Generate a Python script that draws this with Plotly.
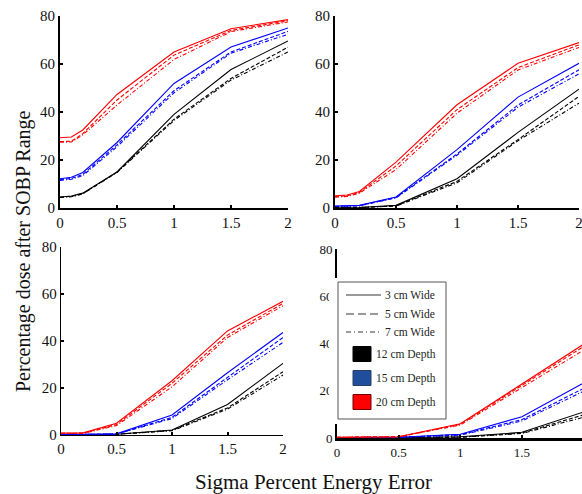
import plotly.graph_objects as go

W, H = 582, 494

sigma = [0, 0.1, 0.2, 0.5, 1, 1.5, 2]
widths = ["3 cm Wide", "5 cm Wide", "7 cm Wide"]
depths = ["12 cm Depth", "15 cm Depth", "20 cm Depth"]
x_ticks = [0, 0.5, 1, 1.5, 2]
y_ticks = [0, 20, 40, 60, 80]

# panel: top-left
tl_black = [[4.6, 5.0, 6.2, 15, 39, 57.7, 69.6], [4.5, 4.8, 6.0, 15, 37, 54, 67], [4.4, 4.7, 5.9, 14.8, 36.5, 53.3, 65]]
tl_blue = [[12.2, 12.8, 14.8, 27.3, 51.9, 67.1, 75], [11.8, 12.3, 14.0, 26.3, 48.9, 65, 73.6], [11.5, 12.0, 13.5, 25.5, 48, 64.5, 72.4]]
tl_red = [[29.3, 29.6, 32.5, 47.3, 65, 74.7, 78.5], [27.7, 27.8, 31, 45, 63.7, 74, 78], [27.4, 27.5, 30.5, 42.9, 61.9, 73.5, 77.5]]
# panel: top-right
tr_black = [[0.1, 0.1, 0.2, 1.1, 12.2, 31.5, 49.5], [0.1, 0.1, 0.2, 0.9, 11.1, 28.5, 46.5], [0.1, 0.1, 0.2, 0.8, 10.5, 28, 43.7]]
tr_blue = [[0.8, 0.9, 1.1, 4.6, 24.3, 46.2, 60.3], [0.7, 0.8, 1.0, 4.4, 22.5, 42.9, 57.6], [0.6, 0.7, 0.9, 4.2, 22, 42, 55.9]]
tr_red = [[5.1, 5.4, 6.9, 19.1, 43, 60.3, 68.9], [4.8, 5.1, 6.5, 17.5, 41, 58.5, 68], [4.5, 4.8, 6.2, 16, 39.5, 57.5, 66.9]]
# panel: bottom-left
bl_black = [[0, 0, 0, 0.3, 2.1, 13, 30.5], [0, 0, 0, 0.3, 2, 11.5, 26.9], [0, 0, 0, 0.3, 1.8, 11, 25.5]]
bl_blue = [[0.2, 0.2, 0.2, 0.5, 8.5, 26.5, 43.6], [0.2, 0.2, 0.2, 0.4, 7.5, 24.5, 41.5], [0.2, 0.2, 0.2, 0.4, 7, 23.5, 39.4]]
bl_red = [[0.8, 0.8, 0.9, 5, 23.1, 44.3, 56.9], [0.7, 0.7, 0.8, 4.5, 22, 42.5, 56], [0.6, 0.6, 0.7, 4, 20.5, 41.5, 55]]
# panel: bottom-right
br_black = [[0.1, 0.1, 0.1, 0.1, 0.5, 2.4, 11], [0.1, 0.1, 0.1, 0.1, 0.4, 2.1, 9.8], [0.1, 0.1, 0.1, 0.1, 0.3, 1.9, 8.8]]
br_blue = [[0.2, 0.2, 0.2, 0.3, 1.6, 9, 23.3], [0.2, 0.2, 0.2, 0.3, 1.4, 7.8, 21], [0.2, 0.2, 0.2, 0.3, 1.2, 7.2, 19.8]]
br_red = [[0.3, 0.3, 0.3, 0.5, 6, 22.8, 39.7], [0.3, 0.3, 0.3, 0.5, 5.8, 22.2, 38.7], [0.3, 0.3, 0.3, 0.5, 5.5, 21.5, 37.2]]

FONT = "Liberation Serif, Times New Roman, serif"
dashes = ["solid", "4px,2px", "4px,2px,1px,2px"]
colors = ["#000000", "#0000ff", "#ff0000"]

def px_x(p):
    return p / W

def px_y(p):
    return 1 - p / H

panels = [
    ("x", "y", (tl_black, tl_blue, tl_red), (60, 288), (16, 208), [0, 2], 15, 2, 2),
    ("x2", "y2", (tr_black, tr_blue, tr_red), (335, 579), (16, 208), [0, 2], 15, 2, 2),
    ("x3", "y3", (bl_black, bl_blue, bl_red), (61, 283), (247, 435), [0, 2], 15, 1.4, 1.4),
    ("x4", "y4", (br_black, br_blue, br_red), (337, 582), (249, 438), [0, 1.987], 13, 3, 2),
]

fig = go.Figure()
layout = dict(
    template="none",
    width=W, height=H, margin=dict(l=0, r=0, t=0, b=0, autoexpand=False),
    paper_bgcolor="white", plot_bgcolor="white", showlegend=False,
    font=dict(family=FONT, color="black"),
)

for xa, ya, data, xd, yd, xr, tf, xlw, ylw in panels:
    for ci, series in enumerate(data):
        for di, vals in enumerate(series):
            fig.add_trace(go.Scatter(
                x=sigma, y=vals, mode="lines", xaxis=xa, yaxis=ya,
                line=dict(color=colors[ci], width=1.1, dash=dashes[di]),
                hoverinfo="skip"))
    xk = "xaxis" + xa[1:]
    yk = "yaxis" + ya[1:]
    layout[xk] = dict(
        domain=[px_x(xd[0]), px_x(xd[1])], range=xr, anchor=ya, automargin=False,
        tickvals=x_ticks, ticktext=[str(v) for v in x_ticks], ticklabeloverflow="allow",
        ticks="inside", ticklen=3, tickwidth=1.5, tickcolor="black",
        showline=True, linecolor="black", linewidth=xlw, showgrid=False,
        zeroline=False, tickfont=dict(size=tf, family=FONT, color="#111"))
    layout[yk] = dict(
        domain=[px_y(yd[1]), px_y(yd[0])], range=[0, 80], anchor=xa, automargin=False,
        tickvals=y_ticks, ticktext=[str(v) for v in y_ticks], ticklabeloverflow="allow",
        ticks="inside", ticklen=3, tickwidth=1.5, tickcolor="black",
        showline=True, linecolor="black", linewidth=ylw, showgrid=False,
        zeroline=False, tickfont=dict(size=tf, family=FONT, color="#111"))

fig.update_layout(**layout)

shapes = []
annotations = []

shapes.append(dict(type="rect", xref="paper", yref="paper", layer="above",
                   x0=px_x(329), x1=px_x(447), y0=px_y(424), y1=px_y(278),
                   fillcolor="white", line=dict(width=0)))
shapes.append(dict(type="rect", xref="paper", yref="paper", layer="above",
                   x0=px_x(338), x1=px_x(446), y0=px_y(419), y1=px_y(282),
                   fillcolor="white", line=dict(color="#555555", width=1)))
line_rows = [295, 314, 332]
for i, (lab, yy) in enumerate(zip(widths, line_rows)):
    shapes.append(dict(type="line", xref="paper", yref="paper", layer="above",
                       x0=px_x(346), x1=px_x(381), y0=px_y(yy), y1=px_y(yy),
                       line=dict(color="#777777", width=1.3,
                                 dash=["solid", "8px,4px", "5px,3px,1px,3px"][i])))
    annotations.append(dict(xref="paper", yref="paper", x=px_x(437), y=px_y(yy),
                            xanchor="right", yanchor="middle", text=lab, showarrow=False,
                            font=dict(size=11.5, family=FONT, color="#222")))
sq_rows = [354, 378, 402]
sq_fill = ["#000000", "#1f4f9c", "#ff0000"]
sq_line = ["#000000", "#2a4060", "#700000"]
for lab, yy, fc, lc in zip(depths, sq_rows, sq_fill, sq_line):
    shapes.append(dict(type="rect", xref="paper", yref="paper", layer="above",
                       x0=px_x(353), x1=px_x(371), y0=px_y(yy + 7.5), y1=px_y(yy - 7.5),
                       fillcolor=fc, line=dict(color=lc, width=1)))
    annotations.append(dict(xref="paper", yref="paper", x=px_x(438), y=px_y(yy),
                            xanchor="right", yanchor="middle", text=lab, showarrow=False,
                            font=dict(size=11.5, family=FONT, color="#1a2a1a")))

annotations.append(dict(xref="paper", yref="paper", x=px_x(24), y=px_y(251),
                        xanchor="center", yanchor="middle", textangle=-90,
                        text="Percentage dose after SOBP Range", showarrow=False,
                        font=dict(size=20, family=FONT, color="#111")))
annotations.append(dict(xref="paper", yref="paper", x=px_x(313), y=px_y(482),
                        xanchor="center", yanchor="middle",
                        text="Sigma Percent Energy Error", showarrow=False,
                        font=dict(size=21, family=FONT, color="#111")))

fig.update_layout(shapes=shapes, annotations=annotations)
fig.write_html("out.html", config={"displayModeBar": False},
               post_script="document.body.style.margin='0px';")
